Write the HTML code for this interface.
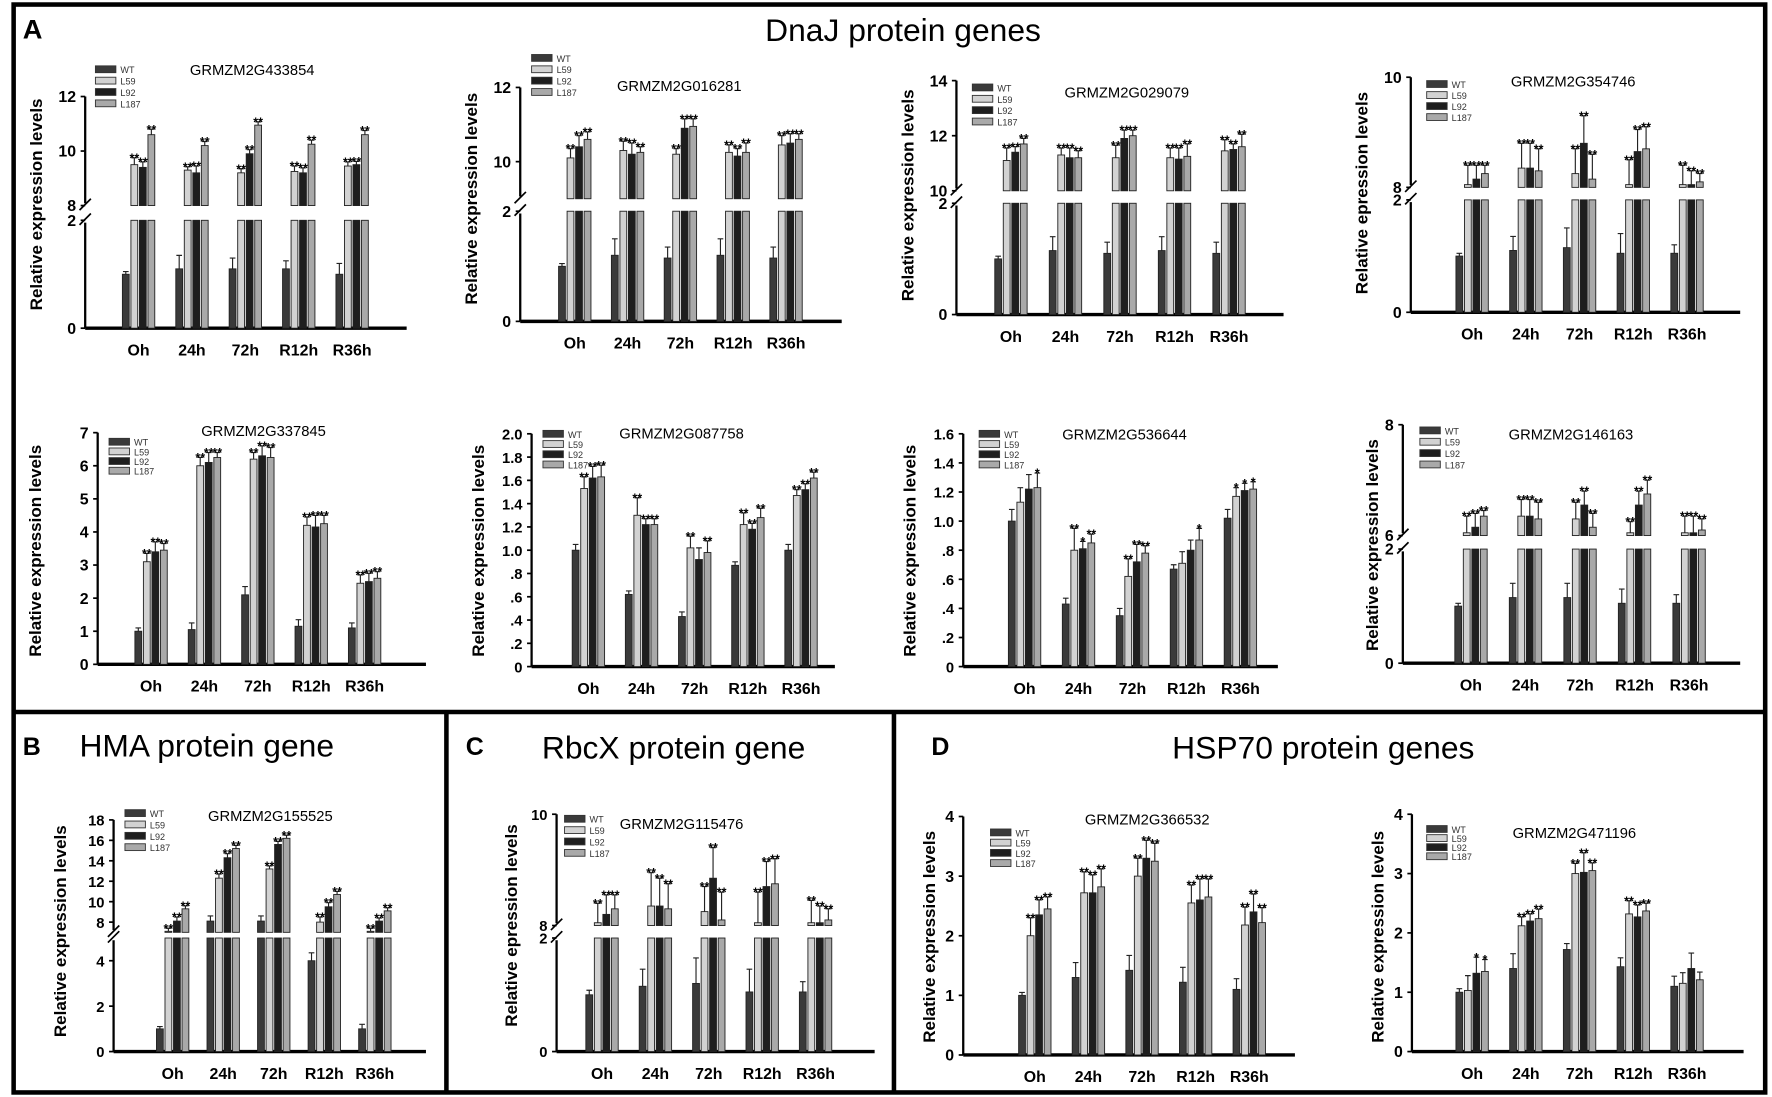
<!DOCTYPE html>
<html><head><meta charset="utf-8">
<style>
html,body{margin:0;padding:0;background:#fff;}
svg{display:block;font-family:"Liberation Sans",Arial,sans-serif;}
</style></head>
<body>
<svg id="fig" width="1772" height="1097" viewBox="0 0 1560 966" preserveAspectRatio="none" xmlns="http://www.w3.org/2000/svg">
<rect x="0" y="0" width="1560" height="966" fill="#fff"/>
<g stroke="#000" fill="none">
<rect x="12" y="4" width="1542" height="958" stroke-width="4"/>
<line x1="12" y1="627" x2="1554" y2="627" stroke-width="4"/>
<line x1="393" y1="627" x2="393" y2="962" stroke-width="4"/>
<line x1="787" y1="627" x2="787" y2="962" stroke-width="4"/>
</g>
<text x="20" y="34" font-size="24" font-weight="bold">A</text>
<text x="795" y="36" font-size="28" text-anchor="middle">DnaJ  protein genes</text>
<text x="20" y="665" font-size="22" font-weight="bold">B</text>
<text x="182" y="666" font-size="28" text-anchor="middle">HMA protein gene</text>
<text x="410" y="665" font-size="22" font-weight="bold">C</text>
<text x="593" y="668" font-size="28" text-anchor="middle">RbcX protein gene</text>
<text x="820" y="665" font-size="22" font-weight="bold">D</text>
<text x="1165" y="668" font-size="28" text-anchor="middle">HSP70 protein genes</text>
<g id="charts"></g>
</svg>
<script>
const categories = ["Oh","24h","72h","R12h","R36h"];
const seriesNames = ["WT","L59","L92","L187"];
const S = "**";

const c1_wt=[1.0,1.1,1.1,1.1,1.0], c1_l59=[9.5,9.3,9.2,9.25,9.45], c1_l92=[9.4,9.2,9.9,9.2,9.5], c1_l187=[10.6,10.2,10.95,10.25,10.6];
const c1_err=[[0.05,0.25,0.2,0.15,0.2],[0.25,0.12,0.15,0.2,0.15],[0.2,0.25,0.15,0.18,0.12],[0.2,0.15,0.12,0.15,0.15]];
const c1_sig=[[S,S,S,S,S],[S,S,S,S,S],[S,S,S,S,S]];

const c2_wt=[1.0,1.2,1.15,1.2,1.15], c2_l59=[10.1,10.3,10.2,10.25,10.45], c2_l92=[10.4,10.2,10.9,10.15,10.5], c2_l187=[10.6,10.25,10.95,10.25,10.6];
const c2_err=[[0.05,0.3,0.2,0.3,0.2],[0.25,0.25,0.15,0.2,0.25],[0.3,0.3,0.25,0.2,0.25],[0.2,0.15,0.2,0.25,0.15]];
const c2_sig=[[S,S,S,S,S],[S,S,S,S,S],[S,S,S,S,S]];

const c3_wt=[1.0,1.15,1.1,1.15,1.1], c3_l59=[11.1,11.3,11.2,11.2,11.45], c3_l92=[11.4,11.2,11.9,11.15,11.5], c3_l187=[11.7,11.2,12.0,11.25,11.6];
const c3_err=[[0.05,0.25,0.2,0.25,0.2],[0.45,0.25,0.45,0.35,0.4],[0.2,0.35,0.3,0.4,0.2],[0.2,0.25,0.2,0.45,0.45]];
const c3_sig=[[S,S,S,S,S],[S,S,S,S,S],[S,S,S,S,S]];

const c4_wt=[1.0,1.1,1.15,1.05,1.05], c4_l59=[8.05,8.35,8.25,8.05,8.05], c4_l92=[8.15,8.35,8.8,8.65,8.05], c4_l187=[8.25,8.3,8.15,8.7,8.1];
const c4_err=[[0.05,0.25,0.35,0.35,0.15],[0.35,0.45,0.45,0.45,0.35],[0.25,0.45,0.5,0.4,0.25],[0.15,0.4,0.45,0.4,0.15]];
const c4_sig=[[S,S,S,S,S],[S,S,S,S,S],[S,S,S,S,S]];

const c5_wt=[1.0,1.05,2.1,1.15,1.1], c5_l59=[3.1,6.0,6.2,4.2,2.45], c5_l92=[3.4,6.1,6.3,4.15,2.5], c5_l187=[3.45,6.25,6.25,4.25,2.6];
const c5_err=[[0.1,0.2,0.25,0.2,0.15],[0.25,0.25,0.2,0.25,0.25],[0.3,0.3,0.3,0.35,0.25],[0.2,0.15,0.3,0.25,0.2]];
const c5_sig=[[S,S,S,S,S],[S,S,S,S,S],[S,S,S,S,S]];

const c6_wt=[1.0,0.62,0.43,0.87,1.0], c6_l59=[1.53,1.3,1.02,1.22,1.47], c6_l92=[1.62,1.22,0.92,1.18,1.52], c6_l187=[1.63,1.22,0.98,1.28,1.62];
const c6_err=[[0.05,0.03,0.04,0.03,0.05],[0.1,0.15,0.1,0.1,0.05],[0.1,0.05,0.1,0.05,0.05],[0.1,0.05,0.1,0.08,0.05]];
const c6_sig=[[S,S,S,S,S],[S,S,"",S,S],[S,S,S,S,S]];

const c7_wt=[1.0,0.43,0.35,0.67,1.02], c7_l59=[1.13,0.8,0.62,0.71,1.17], c7_l92=[1.22,0.81,0.72,0.8,1.21], c7_l187=[1.23,0.85,0.78,0.87,1.22];
const c7_err=[[0.08,0.04,0.05,0.03,0.06],[0.1,0.15,0.12,0.08,0.06],[0.1,0.05,0.12,0.07,0.05],[0.1,0.06,0.05,0.08,0.05]];
const c7_sig=[["",S,S,"","*"],["","*",S,"","*"],["*",S,S,"*","*"]];

const c8_wt=[1.0,1.15,1.15,1.05,1.05], c8_l59=[6.05,6.35,6.3,6.05,6.05], c8_l92=[6.15,6.35,6.55,6.55,6.05], c8_l187=[6.35,6.3,6.15,6.75,6.1];
const c8_err=[[0.05,0.25,0.25,0.25,0.15],[0.3,0.3,0.3,0.2,0.3],[0.25,0.3,0.25,0.25,0.3],[0.1,0.3,0.25,0.25,0.2]];
const c8_sig=[[S,S,S,S,S],[S,S,S,S,S],[S,S,S,S,S]];

const c9_wt=[1.0,8.1,8.1,4.0,1.0], c9_l59=[7.1,12.3,13.2,8.0,7.1], c9_l92=[8.1,14.3,15.6,9.5,8.1], c9_l187=[9.3,15.2,16.2,10.7,9.1];
const c9_err=[[0.1,0.5,0.5,0.35,0.2],[0.3,0.4,0.3,0.5,0.3],[0.4,0.4,0.3,0.4,0.3],[0.3,0.3,0.3,0.3,0.3]];
const c9_sig=[[S,S,S,S,S],[S,S,S,S,S],[S,S,S,S,S]];

const c10_wt=[1.0,1.15,1.2,1.05,1.05], c10_l59=[8.05,8.35,8.25,8.05,8.05], c10_l92=[8.2,8.35,8.85,8.7,8.05], c10_l187=[8.3,8.3,8.1,8.75,8.1];
const c10_err=[[0.08,0.3,0.45,0.4,0.18],[0.35,0.6,0.45,0.55,0.4],[0.35,0.5,0.55,0.45,0.3],[0.25,0.45,0.5,0.45,0.2]];
const c10_sig=[[S,S,S,S,S],[S,S,S,S,S],[S,S,S,S,S]];

const c11_wt=[1.0,1.3,1.42,1.22,1.1], c11_l59=[2.0,2.72,3.0,2.55,2.18], c11_l92=[2.35,2.72,3.3,2.6,2.4], c11_l187=[2.45,2.82,3.25,2.65,2.22];
const c11_err=[[0.05,0.25,0.25,0.25,0.18],[0.3,0.35,0.3,0.3,0.3],[0.25,0.3,0.3,0.35,0.3],[0.2,0.3,0.3,0.3,0.25]];
const c11_sig=[[S,S,S,S,S],[S,S,S,S,S],[S,S,S,S,S]];

const c12_wt=[1.0,1.4,1.72,1.43,1.1], c12_l59=[1.03,2.12,3.0,2.32,1.15], c12_l92=[1.32,2.2,3.02,2.27,1.4], c12_l187=[1.35,2.24,3.05,2.37,1.21];
const c12_err=[[0.06,0.25,0.1,0.15,0.17],[0.25,0.15,0.17,0.22,0.18],[0.27,0.12,0.33,0.2,0.26],[0.2,0.16,0.13,0.13,0.13]];
const c12_sig=[["",S,S,S,""],["*",S,S,S,""],["*",S,S,S,""]];

const NS="http://www.w3.org/2000/svg";
const root=document.getElementById('charts');
function mk(tag,attrs,parent){const e=document.createElementNS(NS,tag);for(const k in attrs)e.setAttribute(k,attrs[k]);(parent||root).appendChild(e);return e;}
const fills=["#3a3a3a","#d2d2d2","#1e1e1e","#a9a9a9"];

function drawChart(cfg, vals, errs, sigs){
  const g=mk('g',{});
  
  
  const br=cfg.broken;
  function yOf(v){
    if(br){
      if(v<=br.lowMax) return cfg.y0 - v/br.lowMax*(cfg.y0-br.yLowTop);
      if(v<br.upMin) return br.yLowTop - (v-br.lowMax)/(br.upMin-br.lowMax)*(br.yLowTop-br.yUpBot);
      return br.yUpBot - (v-br.upMin)/(br.upMax-br.upMin)*(br.yUpBot-cfg.yTop);
    }
    return cfg.y0 - (v-cfg.min)/(cfg.max-cfg.min)*(cfg.y0-cfg.yTop);
  }
  const ax=mk('g',{},g);
  
  
  if(br){
    mk('line',{x1:cfg.x0,y1:cfg.y0,x2:cfg.x0,y2:br.yLowTop+2,stroke:'#000','stroke-width':2},ax);
    mk('line',{x1:cfg.x0,y1:br.yUpBot-2,x2:cfg.x0,y2:cfg.yTop,stroke:'#000','stroke-width':2},ax);
    mk('line',{x1:cfg.x0-5,y1:br.yLowTop+4,x2:cfg.x0+5,y2:br.yLowTop-6,stroke:'#000','stroke-width':1.5},ax);
    mk('line',{x1:cfg.x0-5,y1:br.yUpBot+4,x2:cfg.x0+5,y2:br.yUpBot-6,stroke:'#000','stroke-width':1.5},ax);
  } else {
    mk('line',{x1:cfg.x0,y1:cfg.y0,x2:cfg.x0,y2:cfg.yTop,stroke:'#000','stroke-width':2},ax);
  }
  cfg.ticks.forEach((t,i)=>{
    const y=yOf(t);
    mk('line',{x1:cfg.x0-4,y1:y,x2:cfg.x0,y2:y,stroke:'#000','stroke-width':1.5},ax);
    const tx=mk('text',{x:cfg.x0-8,y:y+5,'font-size':cfg.tickFs||14,'font-weight':'bold','text-anchor':'end'},ax);
    
    
    tx.textContent=cfg.tickLabels[i];
  });
  const xa=mk('line',{x1:cfg.x0,y1:cfg.y0,x2:cfg.x1,y2:cfg.y0,stroke:'#000','stroke-width':3},g);
  
  
  const yt=mk('text',{x:0,y:0,'font-size':15,'font-weight':'bold','text-anchor':'middle',transform:`translate(${cfg.x0-cfg.ytOff},${cfg.ytY}) rotate(-90)`},g);
  
  
  yt.textContent=cfg.ytitle;
  const tt=mk('text',{x:cfg.tx,y:cfg.ty,'font-size':13,'text-anchor':'middle'},g);
  
  
  tt.textContent=cfg.title;
  seriesNames.forEach((n,i)=>{
    const ly=cfg.ly+i*cfg.lsp;
    const r=mk('rect',{x:cfg.lx,y:ly-4,width:18,height:6,fill:fills[i],stroke:'#333','stroke-width':0.8},g);
    
    
    const lt=mk('text',{x:cfg.lx+22,y:ly+2.5,'font-size':8,fill:'#333'},g);
    
    
    lt.textContent=n;
  });
  const bw=6, stepB=7.5;
  categories.forEach((c,ci)=>{
    const cx=cfg.cat0+ci*cfg.step;
    const cl=mk('text',{x:cx,y:cfg.y0+24,'font-size':14,'font-weight':'bold','text-anchor':'middle'},g);
    
    
    cl.textContent=c;
    vals.forEach((arr,si)=>{
      const v=arr[ci], e=errs[si][ci];
      const bx=cx+(si-1.5)*stepB-bw/2;
      const y=yOf(v);
      const st={fill:fills[si],stroke:'#222','stroke-width':0.8};
      if(br && v>br.lowMax){
        const r1=mk('rect',Object.assign({x:bx,y:br.yLowTop,width:bw,height:cfg.y0-br.yLowTop},st),g);
        
        
        if(v>br.upMin){
          const r2=mk('rect',Object.assign({x:bx,y:y,width:bw,height:br.yUpBot-y},st),g);
          
          
        }
      } else {
        const r=mk('rect',Object.assign({x:bx,y:y,width:bw,height:cfg.y0-y},st),g);
        
        
      }
      const ye=yOf(v+e), mx=bx+bw/2;
      const eb=mk('path',{d:`M${mx} ${Math.min(y,br&&v<br.upMin&&v>br.lowMax?br.yUpBot:y)} V${ye} M${mx-2.5} ${ye} H${mx+2.5}`,stroke:'#222','stroke-width':1,fill:'none'},g);
      
      
      if(si>0 && sigs[si-1][ci]){
        const s=mk('text',{x:mx,y:ye+4,'font-size':11,'font-weight':'bold','text-anchor':'middle'},g);
        
        
        s.textContent=sigs[si-1][ci];
      }
    });
  });
}
const YT="Relative expression levels", YT2="Relative epression levels";
drawChart({name:'chart-grmzm2g433854',title:'GRMZM2G433854',x0:75,x1:358,y0:289,yTop:85,broken:{lowMax:2,yLowTop:194,upMin:8,upMax:12,yUpBot:181},ticks:[0,2,8,10,12],tickLabels:['0','2','8','10','12'],cat0:122,step:47,tx:222,ty:66,lx:84,ly:62,lsp:10,ytitle:YT,ytOff:38,ytY:180},[c1_wt,c1_l59,c1_l92,c1_l187],c1_err,c1_sig);
drawChart({name:'chart-grmzm2g016281',title:'GRMZM2G016281',x0:458,x1:741,y0:283,yTop:77,broken:{lowMax:2,yLowTop:186,upMin:9,upMax:12,yUpBot:175},ticks:[0,2,10,12],tickLabels:['0','2','10','12'],cat0:506,step:46.5,tx:598,ty:80,lx:468,ly:52,lsp:10,ytitle:YT,ytOff:38,ytY:175},[c2_wt,c2_l59,c2_l92,c2_l187],c2_err,c2_sig);
drawChart({name:'chart-grmzm2g029079',title:'GRMZM2G029079',x0:842,x1:1130,y0:277,yTop:71,broken:{lowMax:2,yLowTop:179,upMin:10,upMax:14,yUpBot:168},ticks:[0,2,10,12,14],tickLabels:['0','2','10','12','14'],cat0:890,step:48,tx:992,ty:86,lx:856,ly:78,lsp:10,ytitle:YT,ytOff:38,ytY:172},[c3_wt,c3_l59,c3_l92,c3_l187],c3_err,c3_sig);
drawChart({name:'chart-grmzm2g354746',title:'GRMZM2G354746',x0:1242,x1:1532,y0:275,yTop:68,broken:{lowMax:2,yLowTop:176,upMin:8,upMax:10,yUpBot:165},ticks:[0,2,8,10],tickLabels:['0','2','8','10'],cat0:1296,step:47.3,tx:1385,ty:76,lx:1256,ly:75,lsp:9.7,ytitle:YT2,ytOff:38,ytY:170},[c4_wt,c4_l59,c4_l92,c4_l187],c4_err,c4_sig);
drawChart({name:'chart-grmzm2g337845',title:'GRMZM2G337845',x0:86,x1:375,y0:585,yTop:381,min:0,max:7,ticks:[0,1,2,3,4,5,6,7],tickLabels:['0','1','2','3','4','5','6','7'],cat0:133,step:47,tx:232,ty:384,lx:96,ly:390,lsp:8.5,ytitle:YT,ytOff:50,ytY:485},[c5_wt,c5_l59,c5_l92,c5_l187],c5_err,c5_sig);
drawChart({name:'chart-grmzm2g087758',title:'GRMZM2G087758',x0:468,x1:735,y0:587,yTop:382,min:0,max:2,ticks:[0,0.2,0.4,0.6,0.8,1,1.2,1.4,1.6,1.8,2],tickLabels:['0','.2','.4','.6','.8','1.0','1.2','1.4','1.6','1.8','2.0'],tickFs:13,cat0:518,step:46.8,tx:600,ty:386,lx:478,ly:383,lsp:9,ytitle:YT,ytOff:42,ytY:485},[c6_wt,c6_l59,c6_l92,c6_l187],c6_err,c6_sig);
drawChart({name:'chart-grmzm2g536644',title:'GRMZM2G536644',x0:848,x1:1125,y0:587,yTop:382,min:0,max:1.6,ticks:[0,0.2,0.4,0.6,0.8,1,1.2,1.4,1.6],tickLabels:['0','.2','.4','.6','.8','1.0','1.2','1.4','1.6'],tickFs:13,cat0:902,step:47.5,tx:990,ty:387,lx:862,ly:383,lsp:9,ytitle:YT,ytOff:42,ytY:485},[c7_wt,c7_l59,c7_l92,c7_l187],c7_err,c7_sig);
drawChart({name:'chart-grmzm2g146163',title:'GRMZM2G146163',x0:1235,x1:1532,y0:584,yTop:374,broken:{lowMax:2,yLowTop:483.5,upMin:6,upMax:8,yUpBot:471.6},ticks:[0,2,6,8],tickLabels:['0','2','6','8'],cat0:1295,step:48,tx:1383,ty:387,lx:1250,ly:380,lsp:10,ytitle:YT,ytOff:22,ytY:480},[c8_wt,c8_l59,c8_l92,c8_l187],c8_err,c8_sig);
drawChart({name:'chart-grmzm2g155525',title:'GRMZM2G155525',x0:100,x1:375,y0:926,yTop:722,broken:{lowMax:5,yLowTop:826,upMin:7,upMax:18,yUpBot:821},ticks:[0,2,4,8,10,12,14,16,18],tickLabels:['0','2','4','8','10','12','14','16','18'],tickFs:13,cat0:152,step:44.5,tx:238,ty:723,lx:110,ly:717,lsp:10,ytitle:YT,ytOff:42,ytY:820},[c9_wt,c9_l59,c9_l92,c9_l187],c9_err,c9_sig);
drawChart({name:'chart-grmzm2g115476',title:'GRMZM2G115476',x0:490,x1:770,y0:926,yTop:717,broken:{lowMax:2,yLowTop:826,upMin:8,upMax:10,yUpBot:815},ticks:[0,2,8,10],tickLabels:['0','2','8','10'],tickFs:13,cat0:530,step:47,tx:600,ty:730,lx:497,ly:722,lsp:10,ytitle:YT2,ytOff:35,ytY:815},[c10_wt,c10_l59,c10_l92,c10_l187],c10_err,c10_sig);
drawChart({name:'chart-grmzm2g366532',title:'GRMZM2G366532',x0:848,x1:1140,y0:929,yTop:719,min:0,max:4,ticks:[0,1,2,3,4],tickLabels:['0','1','2','3','4'],cat0:911,step:47.2,tx:1010,ty:726,lx:872,ly:734,lsp:9,ytitle:YT,ytOff:25,ytY:825},[c11_wt,c11_l59,c11_l92,c11_l187],c11_err,c11_sig);
drawChart({name:'chart-grmzm2g471196',title:'GRMZM2G471196',x0:1243,x1:1535,y0:926,yTop:717,min:0,max:4,ticks:[0,1,2,3,4],tickLabels:['0','1','2','3','4'],cat0:1296,step:47.3,tx:1386,ty:738,lx:1256,ly:731,lsp:8,ytitle:YT,ytOff:25,ytY:825},[c12_wt,c12_l59,c12_l92,c12_l187],c12_err,c12_sig);
</script>
</body></html>
